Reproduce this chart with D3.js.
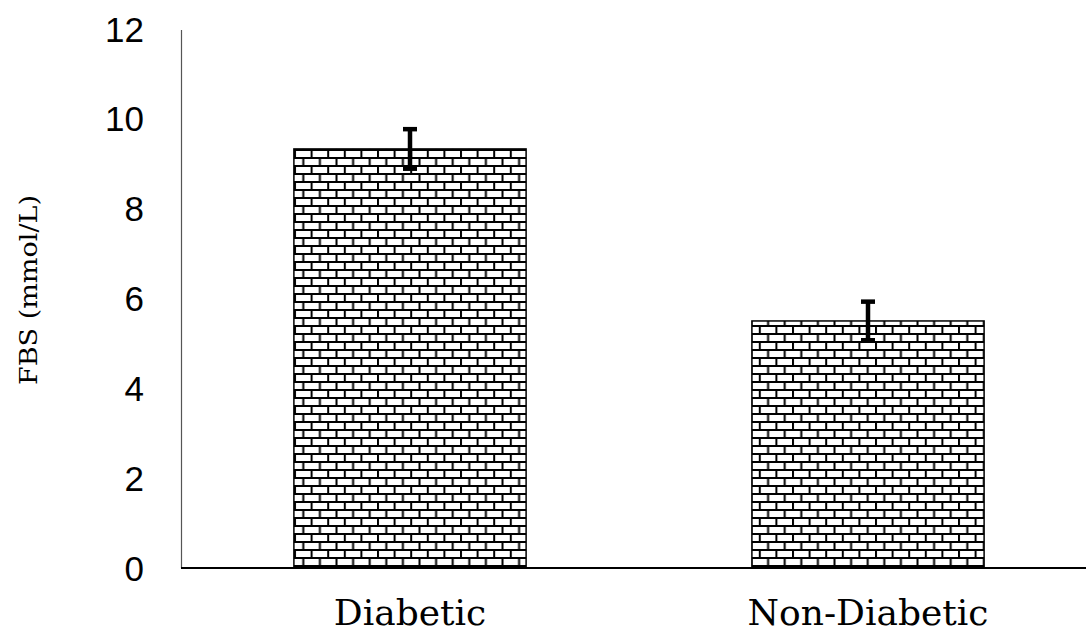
<!DOCTYPE html>
<html>
<head>
<meta charset="utf-8">
<script src="https://cdn.jsdelivr.net/npm/d3@7"></script>
<style>
  body { margin: 0; background: #fff; }
  svg { display: block; }
</style>
</head>
<body>
<svg id="chart" width="1086" height="636"></svg>
<script>
const categories = ["Diabetic", "Non-Diabetic"];
const values = [9.33, 5.5];
const errors = [0.44, 0.43];
const yTicks = [0, 2, 4, 6, 8, 10, 12];
const yTitle = "FBS (mmol/L)";

const svg = d3.select("#chart");
const x0 = 181, yZero = 568, yTop = 29;

const y = d3.scaleLinear().domain([0, 12]).range([yZero, yTop]);
const x = d3.scaleBand().domain(categories).range([x0, 1097]).paddingInner(0).paddingOuter(0);
const barW = x.bandwidth() * 0.507;

// brick pattern
const defs = svg.append("defs");
const pat = defs.append("pattern")
  .attr("id", "brick").attr("patternUnits", "userSpaceOnUse")
  .attr("width", 16.6).attr("height", 16)
  .attr("x", 294).attr("y", 149);
pat.append("rect").attr("width", 16.6).attr("height", 16).attr("fill", "#fff");
pat.append("rect").attr("x", 0).attr("y", 0).attr("width", 16.6).attr("height", 2).attr("fill", "#000");
pat.append("rect").attr("x", 0).attr("y", 8).attr("width", 16.6).attr("height", 2).attr("fill", "#000");
pat.append("rect").attr("x", 0).attr("y", 0).attr("width", 2).attr("height", 8).attr("fill", "#000");
pat.append("rect").attr("x", 8.3).attr("y", 8).attr("width", 2).attr("height", 8).attr("fill", "#000");

// bars
svg.selectAll("rect.bar").data(categories).enter().append("rect")
  .attr("class", "bar")
  .attr("x", d => x(d) + (x.bandwidth() - barW) / 2)
  .attr("y", (d, i) => y(values[i]))
  .attr("width", barW)
  .attr("height", (d, i) => yZero - y(values[i]))
  .attr("fill", "url(#brick)")
  .attr("stroke", "#000").attr("stroke-width", 1.5);

// y axis line
svg.append("line").attr("x1", x0 + 0.5).attr("x2", x0 + 0.5).attr("y1", 30).attr("y2", yZero)
  .attr("stroke", "#555").attr("stroke-width", 1.2);
// x axis line
svg.append("line").attr("x1", x0).attr("x2", 1086).attr("y1", yZero).attr("y2", yZero)
  .attr("stroke", "#000").attr("stroke-width", 2);

// y tick labels
svg.selectAll("text.ytick").data(yTicks).enter().append("text")
  .attr("class", "ytick")
  .attr("x", 144).attr("y", d => y(d))
  .attr("dy", "0.36em")
  .attr("text-anchor", "end")
  .attr("font-family", "Liberation Sans, Arial, sans-serif")
  .attr("font-size", 35)
  .attr("fill", "#000")
  .text(d => d);

// x labels
svg.selectAll("text.xlab").data(categories).enter().append("text")
  .attr("class", "xlab")
  .attr("x", d => x(d) + x.bandwidth() / 2)
  .attr("y", 625)
  .attr("text-anchor", "middle")
  .attr("font-family", "DejaVu Serif, serif")
  .attr("font-size", 36)
  .attr("fill", "#000")
  .text(d => d);

// error bars
const eb = svg.selectAll("g.err").data(categories).enter().append("g").attr("class", "err");
eb.append("line")
  .attr("x1", d => x(d) + x.bandwidth() / 2).attr("x2", d => x(d) + x.bandwidth() / 2)
  .attr("y1", (d, i) => y(values[i] + errors[i])).attr("y2", (d, i) => y(values[i] - errors[i]))
  .attr("stroke", "#000").attr("stroke-width", 4.5);
[1, -1].forEach(s => {
  eb.append("line")
    .attr("x1", d => x(d) + x.bandwidth() / 2 - 7).attr("x2", d => x(d) + x.bandwidth() / 2 + 7)
    .attr("y1", (d, i) => y(values[i] + s * errors[i])).attr("y2", (d, i) => y(values[i] + s * errors[i]))
    .attr("stroke", "#000").attr("stroke-width", 4.5);
});

// y title
svg.append("text")
  .attr("transform", "translate(37,290) rotate(-90)")
  .attr("text-anchor", "middle")
  .attr("font-family", "DejaVu Serif, serif")
  .attr("font-size", 24)
  .attr("textLength", 190)
  .attr("lengthAdjust", "spacingAndGlyphs")
  .attr("fill", "#000")
  .text(yTitle);
</script>
</body>
</html>
